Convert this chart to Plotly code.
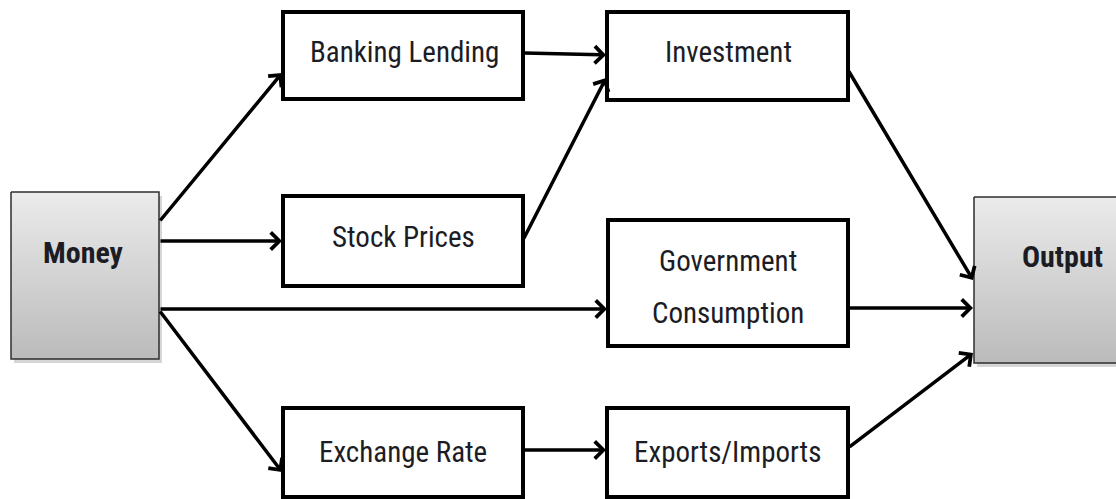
import plotly.graph_objects as go

W, H = 1116, 499

# nodes of the transmission diagram
nodes = ["Money", "Banking Lending", "Stock Prices", "Investment",
         "Government Consumption", "Exchange Rate", "Exports/Imports", "Output"]
labels = [["<b>Money</b>"], ["Banking Lending"], ["Stock Prices"], ["Investment"],
          ["Government", "Consumption"], ["Exchange Rate"], ["Exports/Imports"], ["<b>Output</b>"]]
shaded = ["Money", "Output"]

# links: source -> target
sources = ["Money", "Money", "Money", "Money", "Banking Lending", "Stock Prices",
           "Investment", "Government Consumption", "Exports/Imports", "Exchange Rate"]
targets = ["Banking Lending", "Stock Prices", "Government Consumption", "Exchange Rate",
           "Investment", "Investment", "Output", "Output", "Output", "Exports/Imports"]

# layout in pixels (x0, y0, x1, y1)
box = {
    "Money": (11, 192, 159, 359),
    "Banking Lending": (283, 12, 523, 99),
    "Stock Prices": (283, 196, 523, 286),
    "Investment": (607, 12, 848, 100),
    "Government Consumption": (608, 220, 848, 346),
    "Exchange Rate": (283, 408, 523, 497),
    "Exports/Imports": (607, 408, 848, 497),
    "Output": (974, 197, 1125, 363),
}
label_pos = {
    "Money": (83, 252), "Banking Lending": (404, 52), "Stock Prices": (403, 237),
    "Investment": (728, 52), "Government Consumption": (728, 261),
    "Exchange Rate": (403, 452), "Exports/Imports": (727, 452), "Output": (1062, 256),
}
line_gap = 52
# y where each link leaves the source and enters the target
link_y = [(222, 73), (241, 241), (309, 309), (310, 472), (53, 55),
          (240, 78), (70, 280), (308, 308), (448, 353), (450, 450)]

fig = go.Figure()
shapes = []
for n in nodes:
    x0, y0, x1, y1 = box[n]
    if n in shaded:
        shapes.append(dict(type="rect", x0=x0 + 3, y0=y0 + 4, x1=x1 + 3, y1=y1 + 4,
                           line=dict(width=0), fillcolor="rgba(0,0,0,0.16)", layer="below"))
        fig.add_trace(go.Scatter(x=[x0, x1, x1, x0, x0], y=[y0, y0, y1, y1, y0],
                                 mode="lines", fill="toself",
                                 line=dict(color="#2e2e2e", width=1.5),
                                 fillgradient=dict(type="vertical",
                                                   colorscale=[[0, "#bbbbbb"], [1, "#ebebeb"]]),
                                 hoverinfo="skip", showlegend=False))
    else:
        shapes.append(dict(type="rect", x0=x0, y0=y0, x1=x1, y1=y1,
                           line=dict(color="black", width=4), fillcolor="white"))

annotations = []
for n, lines in zip(nodes, labels):
    x, y = label_pos[n]
    for i, lab in enumerate(lines):
        annotations.append(dict(x=x, y=y + i * line_gap, text=lab, showarrow=False,
                                font=dict(family="Roboto Condensed, Liberation Sans Narrow, Roboto",
                                          size=29 if n not in shaded else 30, color="#1c1c24")))

for s, t, (ys, yt) in zip(sources, targets, link_y):
    xs = box[s][2]
    xt = box[t][0] - 1
    annotations.append(dict(x=xt, y=yt, ax=xs, ay=ys, xref="x", yref="y",
                            axref="x", ayref="y", text="", showarrow=True,
                            arrowhead=4, arrowsize=0.95, arrowwidth=3.5,
                            arrowcolor="black", standoff=0, startstandoff=0))

fig.update_layout(
    width=W, height=H,
    margin=dict(l=0, r=0, t=0, b=0, pad=0),
    paper_bgcolor="white", plot_bgcolor="white",
    xaxis=dict(range=[0, W], visible=False, fixedrange=True),
    yaxis=dict(range=[H, 0], visible=False, fixedrange=True),
    shapes=shapes, annotations=annotations, showlegend=False,
)

fig.write_html("out.html", config={"displayModeBar": False},
               post_script="document.body.style.margin='0';")
